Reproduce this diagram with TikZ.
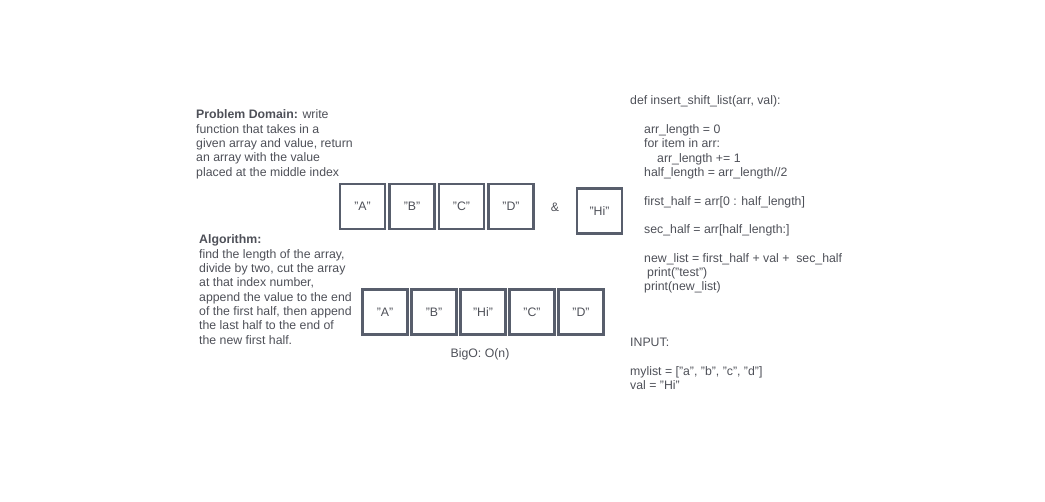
\documentclass[tikz,border=0pt]{standalone}
\usepackage{fontspec}
\setmainfont{Liberation Sans}
\usepackage{tikz}

\definecolor{inkgray}{RGB}{78,80,88}
\definecolor{boxgray}{RGB}{88,94,108}

\begin{document}
\begin{tikzpicture}[x=1pt,y=-1pt,
    every node/.style={text=inkgray,font=\fontsize{12.3}{14.3}\selectfont},
    cell/.style={draw=boxgray,line width=2.5pt,minimum width=45pt,minimum height=45pt,inner sep=0pt},
    para/.style={align=left,anchor=base west,inner sep=0pt}]
      \useasboundingbox (0,0) rectangle (1045,502);
      % problem and algorithm (placed by the last line)
      \node[para] (domain) at (196,176.2) {\textbf{Problem Domain:} write\\function that takes in a\\given array and value, return\\an array with the value\\placed at the middle index};
      \node[para] (algo) at (199,344.1) {\textbf{Algorithm:}\\find the length of the array,\\divide by two, cut the array\\at that index number,\\append the value to the end\\of the first half, then append\\the last half to the end of\\the new first half.};
      % input array and value
      \foreach \l [count=\i] in {A,B,C,D}{
      \node[cell] (top\i) at (313+49.5*\i,206.5) {"\l"};
      }
      \node (amp) at (555,207) {\&};
      \node[cell] (val) at (599.5,211) {"Hi"};
      % output array
      \foreach \l [count=\i] in {A,B,Hi,C,D}{
      \node[cell] (out\i) at (336+49*\i,312) {"\l"};
      }
      \node (bigo) at (480,354) {BigO: O(n)};
      % code
      \node[para] (code) at (630,290.9) {def insert\_shift\_list(arr, val):\\[14.3pt]
        \hspace*{14pt}arr\_length = 0\\
        \hspace*{14pt}for item in arr:\\
        \hspace*{27pt}arr\_length += 1\\
        \hspace*{14pt}half\_length = arr\_length//2\\[14.3pt]
        \hspace*{14pt}first\_half = arr[0 : half\_length]\\[14.3pt]
        \hspace*{14pt}sec\_half = arr[half\_length:]\\[14.3pt]
        \hspace*{14pt}new\_list = first\_half + val +\ \ sec\_half\\
        \hspace*{17pt}print("test")\\
        \hspace*{14pt}print(new\_list)};
      \node[para] (input) at (630,389.9) {INPUT:\\[14.3pt]mylist = ["a", "b", "c", "d"]\\val = "Hi"};
    \end{tikzpicture}
\end{document}
